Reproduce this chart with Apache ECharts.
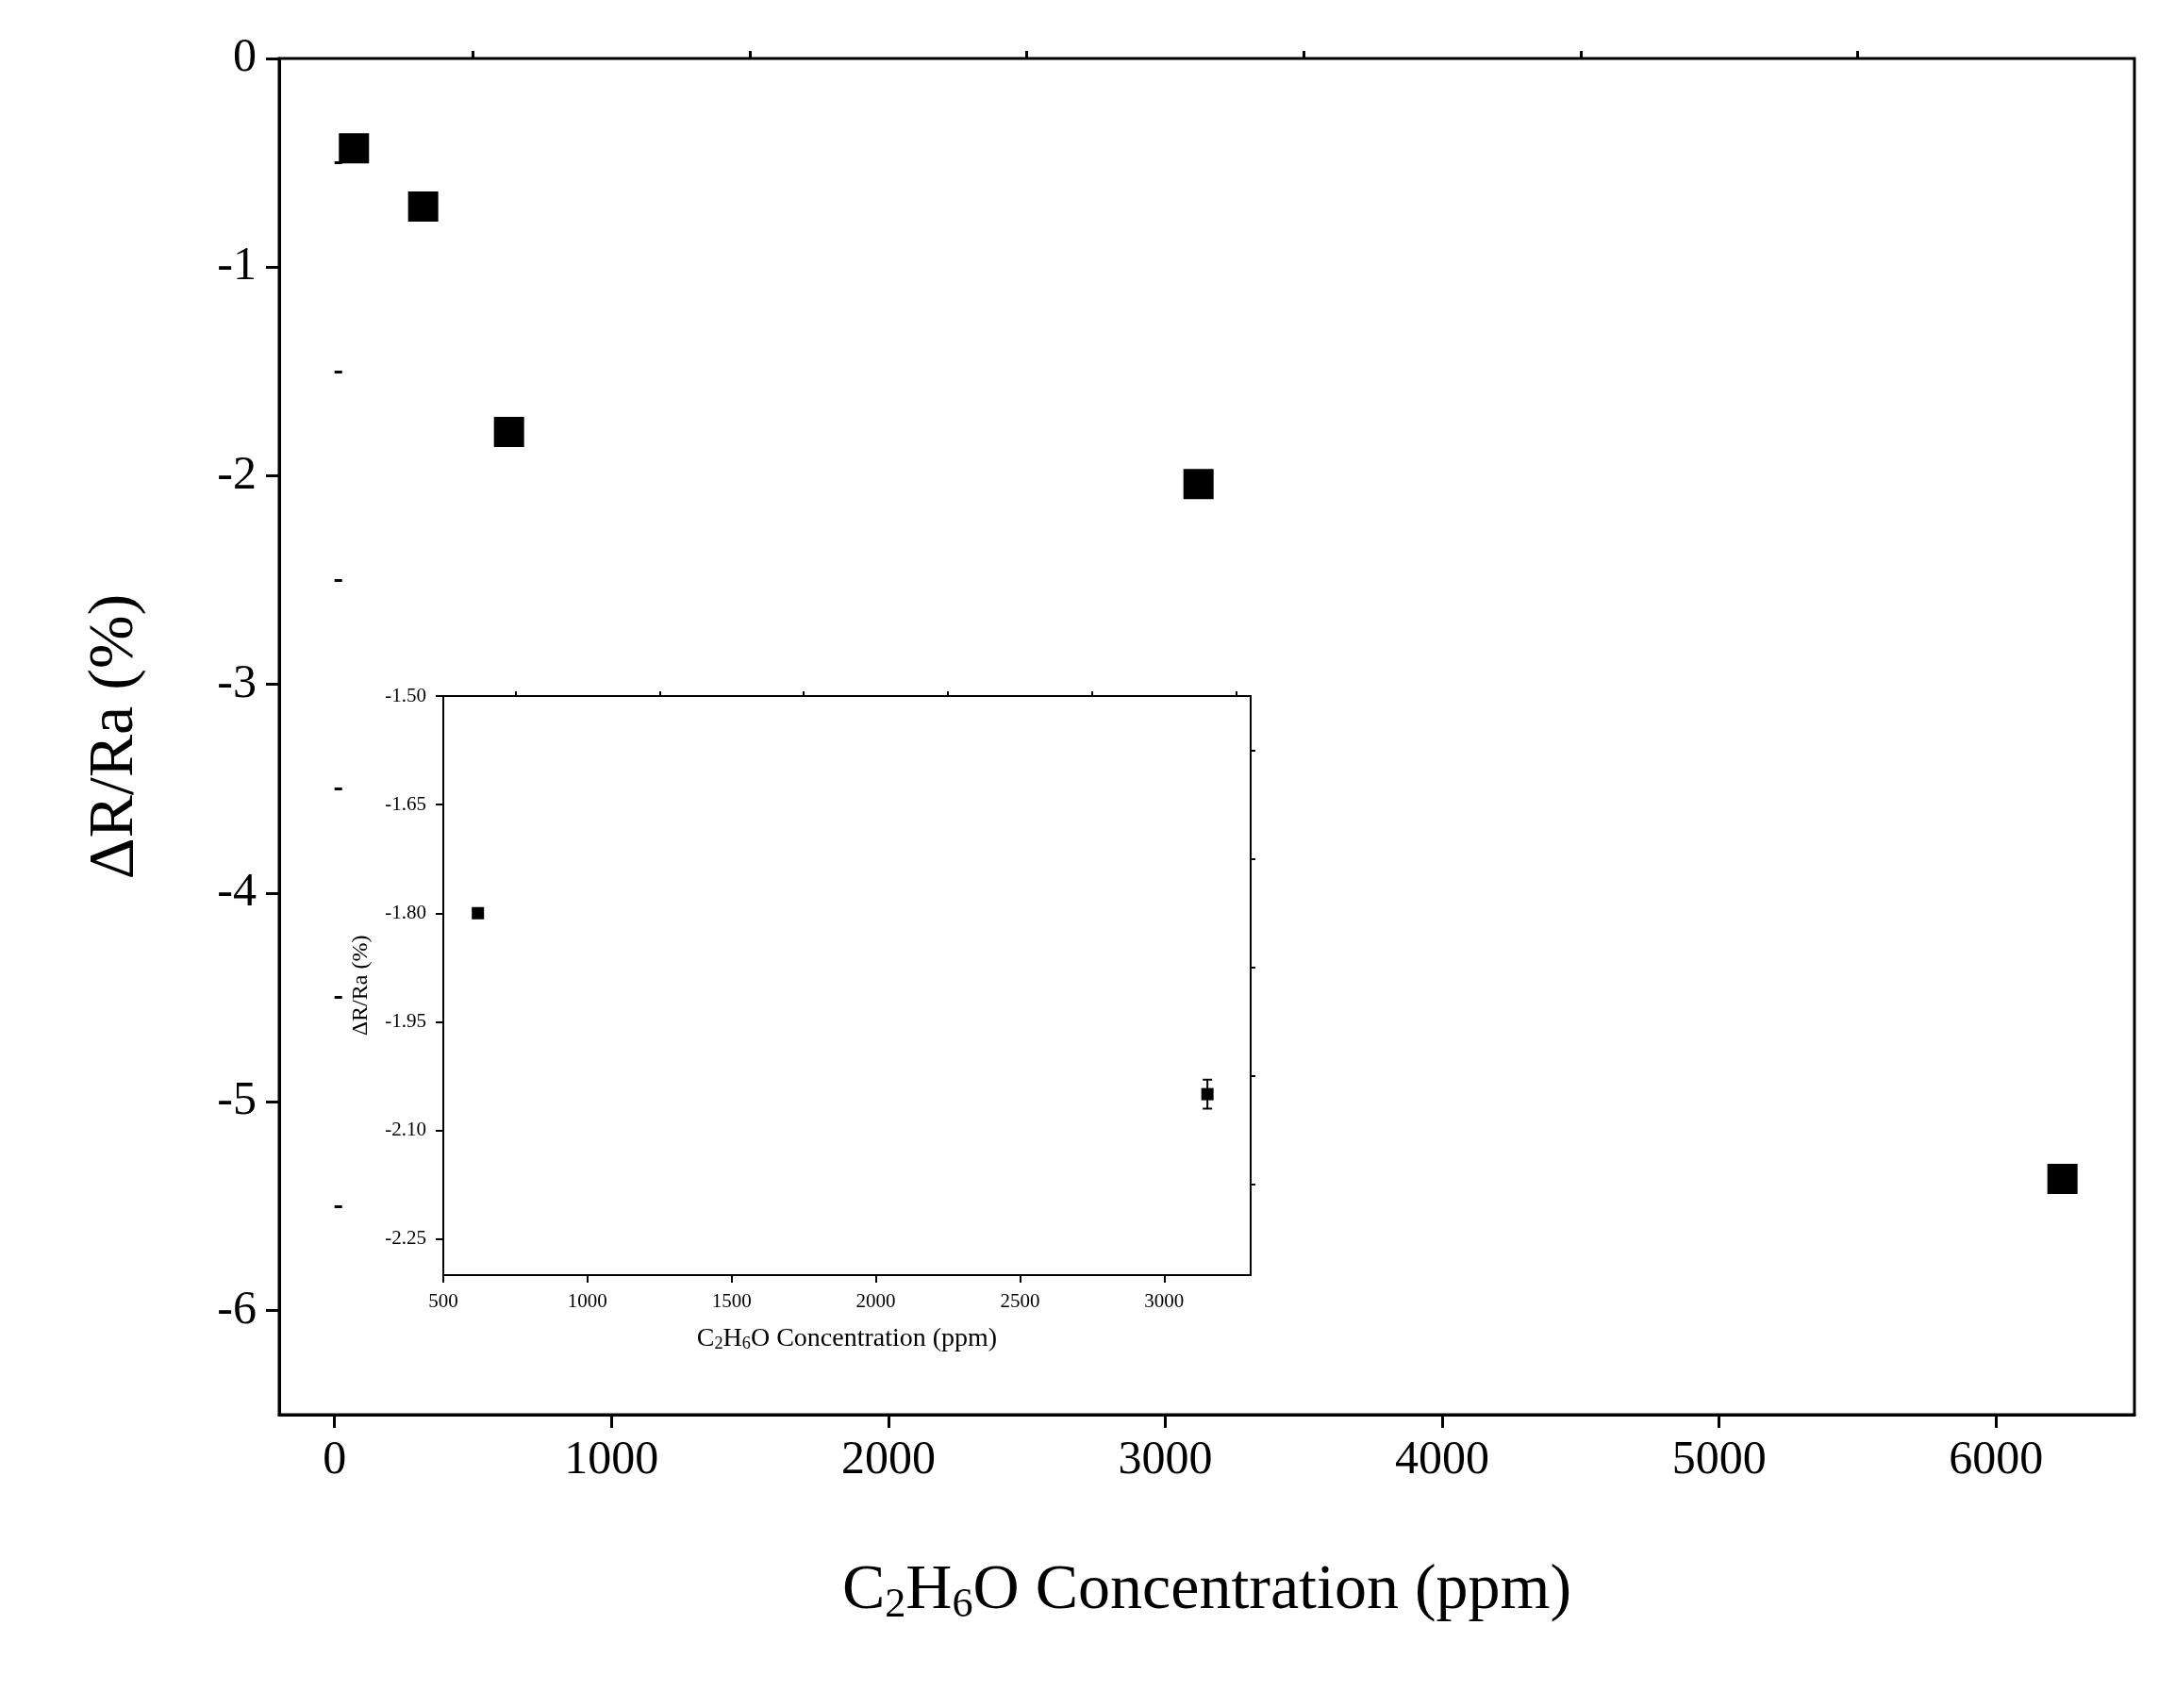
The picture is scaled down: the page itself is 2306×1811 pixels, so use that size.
<!DOCTYPE html>
<html><head><meta charset="utf-8">
<script src="https://cdn.jsdelivr.net/npm/echarts@6/dist/echarts.min.js"></script>
<style>html,body{margin:0;background:#fff}#c{width:2306px;height:1811px}</style>
</head><body><div id="c"></div>
<script>
const mainX = [70, 320, 630, 3120, 6240];
const mainY = [-0.43, -0.71, -1.79, -2.04, -5.37];
const mainErr = [0.03, 0.02, 0.03, 0.02, 0.04];
const insetX = [620, 3150];
const insetY = [-1.80, -2.05];
const insetErr = [0.005, 0.02];
const mainXTicks = [0, 1000, 2000, 3000, 4000, 5000, 6000];
const mainXMinor = [500, 1500, 2500, 3500, 4500, 5500];
const mainYTicks = [0, -1, -2, -3, -4, -5, -6];
const mainYMinor = [-0.5, -1.5, -2.5, -3.5, -4.5, -5.5];
const insetXTicks = [500, 1000, 1500, 2000, 2500, 3000];
const insetXMinor = [750, 1250, 1750, 2250, 2750, 3250];
const insetYTicks = [-1.50, -1.65, -1.80, -1.95, -2.10, -2.25];
const insetYMinor = [-1.575, -1.725, -1.875, -2.025, -2.175];

const F = 'Liberation Serif';
const chart = echarts.init(document.getElementById('c'));
function pts(xs, ys){return xs.map((x,i)=>[x,ys[i]]);}
function errs(xs, ys, es){return xs.map((x,i)=>[x,ys[i],es[i]]);}
function errSeries(xi, yi, data, cap){
  return {type:'custom', xAxisIndex:xi, yAxisIndex:yi, data:data, z:5,
    renderItem:(p,api)=>{
      const x=api.value(0), y=api.value(1), e=api.value(2);
      const a=api.coord([x,y+e]), b=api.coord([x,y-e]);
      const st={stroke:'#000',lineWidth:2};
      return {type:'group',children:[
        {type:'line',shape:{x1:a[0],y1:a[1],x2:b[0],y2:b[1]},style:st},
        {type:'line',shape:{x1:a[0]-cap,y1:a[1],x2:a[0]+cap,y2:a[1]},style:st},
        {type:'line',shape:{x1:b[0]-cap,y1:b[1],x2:b[0]+cap,y2:b[1]},style:st}]};
    }};
}
const xName='{a|C}{s|2}{a|H}{s|6}{a|O Concentration (ppm)}';
function axisCfg(isX,gi,min,max,ticks,fs,lw,tl,fmt,name,nameFs,gap){
  const o={type:'value',gridIndex:gi,min:min,max:max,
    axisLine:{onZero:false,lineStyle:{color:'#000',width:lw}},
    axisTick:{show:true,inside:false,length:tl,customValues:ticks,lineStyle:{color:'#000',width:lw}},
    splitLine:{show:false},
    axisLabel:{color:'#000',fontFamily:F,fontSize:fs,margin:tl+10,customValues:ticks,formatter:fmt}};
  if(name){
    o.name=name;o.nameLocation='middle';o.nameGap=gap;
    if(isX){o.nameTextStyle={rich:{a:{fontFamily:F,fontSize:nameFs,color:'#000'},
      s:{fontFamily:F,fontSize:nameFs*0.65,color:'#000',verticalAlign:'bottom',padding:[nameFs*0.45,0,0,0]}}};}
    else{o.nameRotate=90;o.nameTextStyle={fontFamily:F,fontSize:nameFs,color:'#000'};}
  }
  return o;
}
function minorCfg(gi,min,max,ticks,lw,tl){
  return {type:'value',gridIndex:gi,min:min,max:max,
    axisLine:{show:false},splitLine:{show:false},axisLabel:{show:false},
    axisTick:{show:true,inside:false,length:tl,customValues:ticks,lineStyle:{color:'#000',width:lw}}};
}
chart.setOption({
  animation:false,
  grid:[{left:296,top:62,width:1967,height:1438,show:true,borderColor:'#000',borderWidth:3},
        {left:470,top:738,width:856,height:614,show:true,borderColor:'#000',borderWidth:2,backgroundColor:'#fff'}],
  xAxis:[axisCfg(true,0,-200,6500,mainXTicks,50,3,14,v=>String(v),xName,68,150),
         axisCfg(true,1,500,3300,insetXTicks,21,2,8,v=>String(v),xName,28,52),
         minorCfg(0,-200,6500,mainXMinor,3,8),
         minorCfg(1,500,3300,insetXMinor,2,5)],
  yAxis:[axisCfg(false,0,-6.5,0,mainYTicks,50,3,14,v=>String(Math.round(v)),'ΔR/Ra (%)',68,140),
         axisCfg(false,1,-2.3,-1.5,insetYTicks,21,2,8,v=>v.toFixed(2),'ΔR/Ra (%)',24,75),
         minorCfg(0,-6.5,0,mainYMinor,3,8),
         minorCfg(1,-2.3,-1.5,insetYMinor,2,5)],
  series:[
    {type:'scatter',xAxisIndex:0,yAxisIndex:0,data:pts(mainX,mainY),symbol:'rect',symbolSize:32,itemStyle:{color:'#000',opacity:1},z:6},
    errSeries(0,0,errs(mainX,mainY,mainErr),8),
    {type:'scatter',xAxisIndex:1,yAxisIndex:1,data:pts(insetX,insetY),symbol:'rect',symbolSize:13,itemStyle:{color:'#000',opacity:1},z:6},
    errSeries(1,1,errs(insetX,insetY,insetErr),5)
  ]
});
</script></body></html>
